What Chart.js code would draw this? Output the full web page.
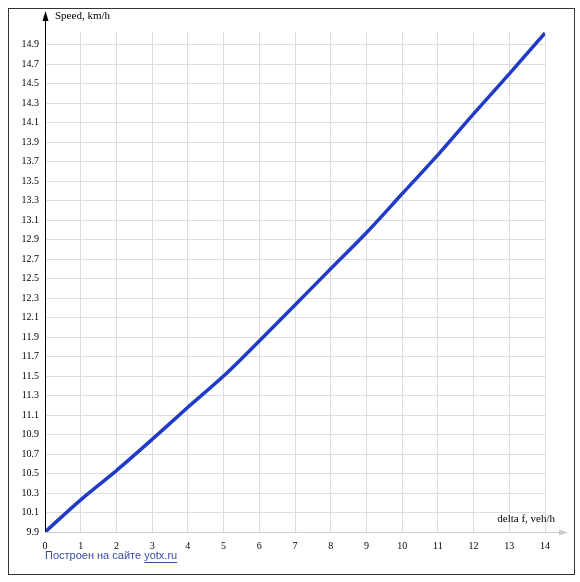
<!DOCTYPE html>
<html>
<head>
<meta charset="utf-8">
<script src="https://cdn.jsdelivr.net/npm/chart.js@4"></script>
<style>
  html, body { margin: 0; padding: 0; background: #fff; }
  #wrap { width: 580px; height: 582px; }
</style>
</head>
<body>
<div id="wrap"><canvas id="chart"></canvas></div>
<script>
"use strict";

const xValues = [0, 1, 2, 3, 4, 5, 6, 7, 8, 9, 10, 11, 12, 13, 14];
const speeds = [9.9, 10.23, 10.53, 10.85, 11.18, 11.5, 11.86, 12.23, 12.6, 12.97, 13.37, 13.77, 14.19, 14.6, 15.02];
const yTicks = [9.9, 10.1, 10.3, 10.5, 10.7, 10.9, 11.1, 11.3, 11.5, 11.7, 11.9, 12.1, 12.3, 12.5, 12.7, 12.9, 13.1, 13.3, 13.5, 13.7, 13.9, 14.1, 14.3, 14.5, 14.7, 14.9];
const yTitle = "Speed, km/h";
const xTitle = "delta f, veh/h";
const footer = "Построен на сайте ";
const footerLink = "yotx.ru";

const font = "Liberation Serif";

const decor = {
    id: "decor",
    afterDraw(chart) {
        const ctx = chart.ctx;
        const a = chart.chartArea;
        ctx.save();
        // frame
        ctx.strokeStyle = "#333";
        ctx.lineWidth = 1;
        ctx.strokeRect(8.5, 8.5, 566, 566);
        // y axis with arrow
        ctx.strokeStyle = "#000";
        ctx.beginPath();
        ctx.moveTo(a.left + 0.5, a.bottom);
        ctx.lineTo(a.left + 0.5, 16);
        ctx.stroke();
        ctx.fillStyle = "#000";
        ctx.beginPath();
        ctx.moveTo(a.left + 0.5, 11);
        ctx.lineTo(a.left - 2.5, 21);
        ctx.lineTo(a.left + 3.5, 21);
        ctx.closePath();
        ctx.fill();
        // x axis with arrow
        ctx.strokeStyle = "#ccc";
        ctx.beginPath();
        ctx.moveTo(a.left, a.bottom + 0.5);
        ctx.lineTo(562, a.bottom + 0.5);
        ctx.stroke();
        ctx.fillStyle = "#ccc";
        ctx.beginPath();
        ctx.moveTo(568, a.bottom + 0.5);
        ctx.lineTo(559, a.bottom - 2.5);
        ctx.lineTo(559, a.bottom + 3.5);
        ctx.closePath();
        ctx.fill();
        // titles
        ctx.fillStyle = "#000";
        ctx.font = "11px '" + font + "'";
        ctx.textBaseline = "middle";
        ctx.textAlign = "left";
        ctx.fillText(yTitle, a.left + 10, 16);
        ctx.textAlign = "right";
        ctx.fillText(xTitle, 555, a.bottom - 13);
        // footer
        ctx.font = "11px Arial, 'Liberation Sans'";
        ctx.textAlign = "left";
        ctx.fillStyle = "#3a4aa0";
        ctx.fillText(footer, 45, 556);
        const w = ctx.measureText(footer).width;
        ctx.fillText(footerLink, 45 + w, 556);
        const lw = ctx.measureText(footerLink).width;
        ctx.fillRect(45 + w, 562, lw, 1);
        ctx.restore();
    }
};

const ctx = document.querySelector("#chart").getContext("2d");
new Chart(ctx, {
    type: "line",
    data: {
        datasets: [{
            data: xValues.map((x, i) => ({ x: x, y: speeds[i] })),
            borderColor: "#1f3bc8",
            borderWidth: 3.5,
            pointRadius: 0,
            tension: 0.3,
            fill: false
        }]
    },
    options: {
        responsive: true,
        maintainAspectRatio: false,
        animation: false,
        layout: { padding: { left: 0, right: 35, top: 32, bottom: 0 } },
        plugins: { legend: { display: false }, tooltip: { enabled: false } },
        scales: {
            x: {
                type: "linear",
                min: 0,
                max: 14,
                afterFit(scale) { scale.height = 50; },
                afterBuildTicks(scale) { scale.ticks = xValues.map(v => ({ value: v })); },
                grid: { color: "#ddd", drawTicks: false },
                border: { display: false },
                ticks: { color: "#000", font: { family: font, size: 10 }, padding: 8, maxRotation: 0 }
            },
            y: {
                min: 9.9,
                max: 15.03,
                afterFit(scale) { scale.width = 45; },
                afterBuildTicks(scale) { scale.ticks = yTicks.map(v => ({ value: v })); },
                grid: { color: "#ddd", drawTicks: false },
                border: { display: false },
                ticks: {
                    color: "#000",
                    font: { family: font, size: 10 },
                    padding: 6,
                    callback: v => v.toFixed(1)
                }
            }
        }
    },
    plugins: [decor]
});
</script>
</body>
</html>
